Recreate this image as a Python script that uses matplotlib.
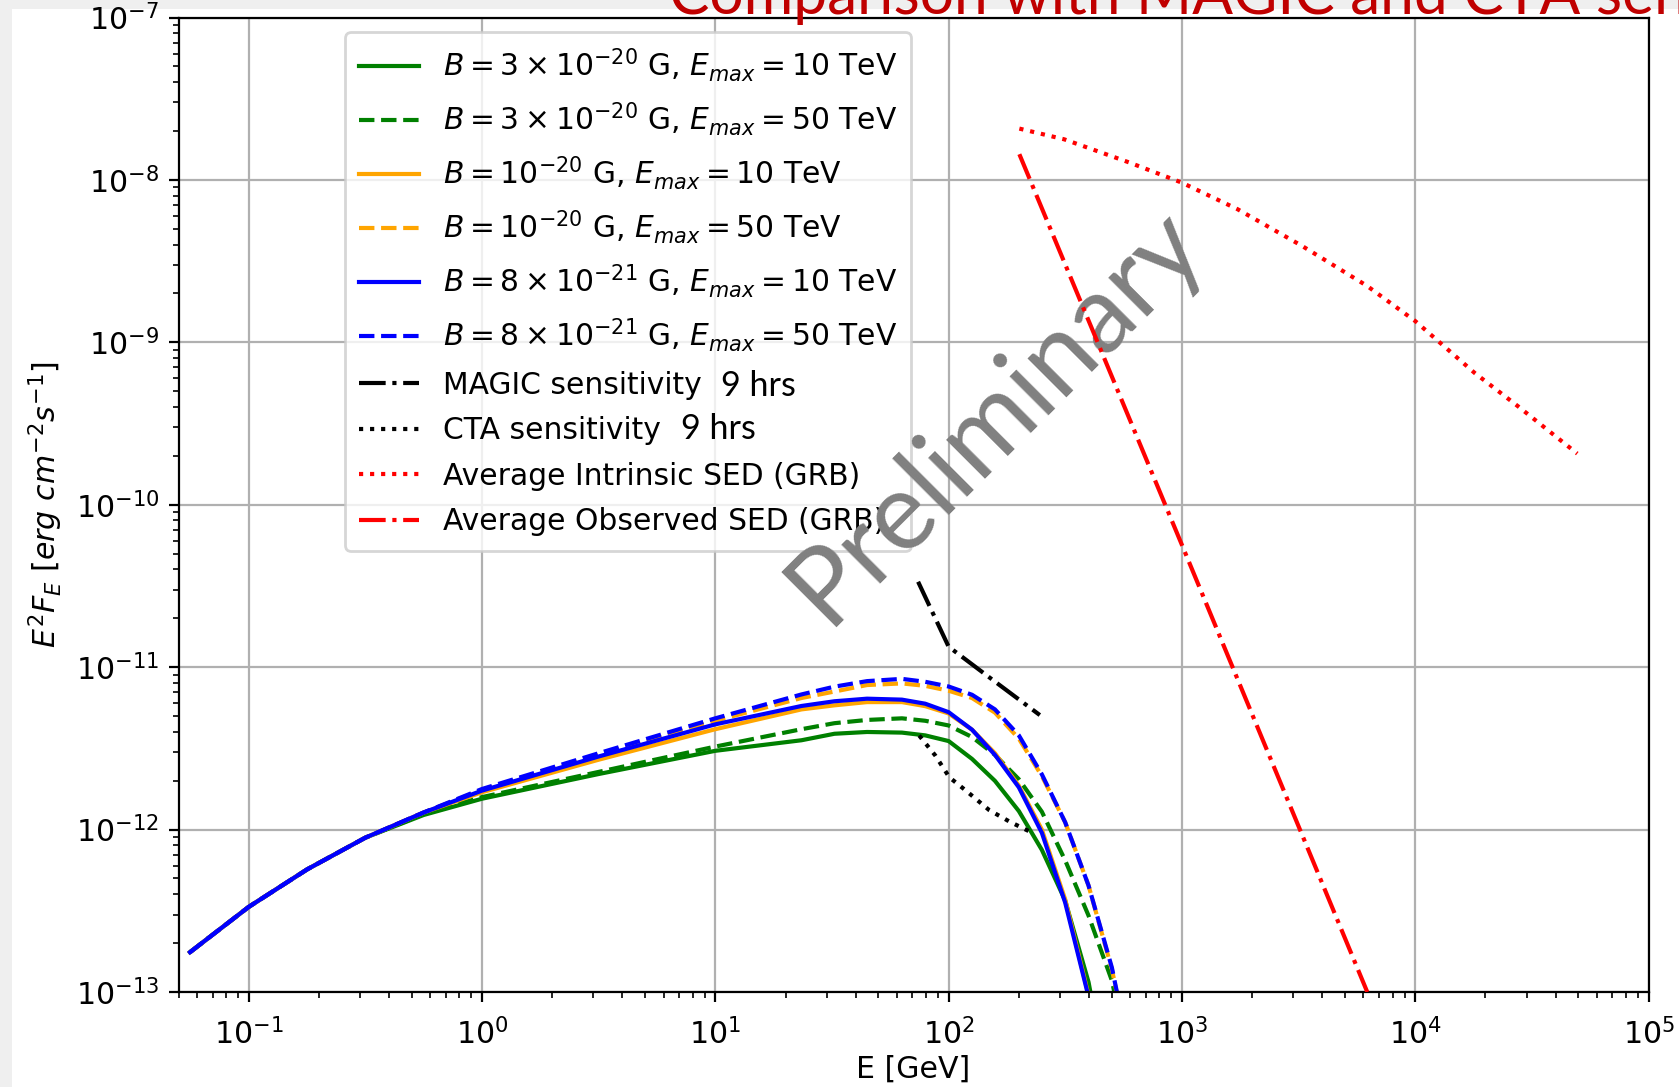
import matplotlib
matplotlib.use("Agg")
import matplotlib.pyplot as plt
from matplotlib.patches import Rectangle

# Photon energy grid shared by the cascade models [GeV]
energy = [0.056, 0.1, 0.178, 0.316, 0.562, 1.0, 3.16, 10.0, 23.4, 32.4, 44.7,
          63.1, 79.4, 100.0, 126.0, 158.0, 200.0, 251.0, 316.0, 398.0, 501.0, 631.0]

# E^2 F_E [erg cm^-2 s^-1] for each IGMF strength / maximum energy
b3e20_10tev = [1.758e-13, 3.342e-13, 5.689e-13, 8.913e-13, 1.230e-12, 1.549e-12, 2.198e-12,
               3.055e-12, 3.548e-12, 3.890e-12, 3.990e-12, 3.954e-12, 3.802e-12, 3.508e-12,
               2.723e-12, 1.995e-12, 1.300e-12, 7.499e-13, 3.656e-13, 1.148e-13, 1.995e-14, 3.162e-15]
b3e20_50tev = [1.758e-13, 3.342e-13, 5.689e-13, 8.913e-13, 1.245e-12, 1.585e-12, 2.265e-12,
               3.243e-12, 4.150e-12, 4.519e-12, 4.732e-12, 4.842e-12, 4.677e-12, 4.375e-12,
               3.715e-12, 2.884e-12, 2.042e-12, 1.288e-12, 6.457e-13, 2.951e-13, 1.175e-13, 2.512e-14]
b1e20_10tev = [1.758e-13, 3.342e-13, 5.689e-13, 8.913e-13, 1.274e-12, 1.698e-12, 2.692e-12,
               4.150e-12, 5.495e-12, 5.821e-12, 6.095e-12, 6.095e-12, 5.754e-12, 5.188e-12,
               4.121e-12, 2.951e-12, 1.862e-12, 1.000e-12, 3.715e-13, 9.550e-14, 1.585e-14, 2.512e-15]
b1e20_50tev = [1.758e-13, 3.342e-13, 5.689e-13, 8.913e-13, 1.274e-12, 1.758e-12, 2.884e-12,
               4.677e-12, 6.457e-12, 7.079e-12, 7.762e-12, 7.943e-12, 7.674e-12, 7.161e-12,
               6.457e-12, 5.248e-12, 3.631e-12, 2.138e-12, 1.109e-12, 4.519e-13, 1.380e-13, 2.818e-14]
b8e21_10tev = [1.758e-13, 3.342e-13, 5.689e-13, 8.913e-13, 1.274e-12, 1.738e-12, 2.818e-12,
               4.446e-12, 5.768e-12, 6.166e-12, 6.397e-12, 6.310e-12, 5.957e-12, 5.284e-12,
               4.121e-12, 2.884e-12, 1.820e-12, 9.550e-13, 3.548e-13, 9.333e-14, 1.585e-14, 2.512e-15]
b8e21_50tev = [1.758e-13, 3.342e-13, 5.689e-13, 8.913e-13, 1.274e-12, 1.778e-12, 2.951e-12,
               4.842e-12, 6.792e-12, 7.586e-12, 8.204e-12, 8.472e-12, 8.128e-12, 7.603e-12,
               6.761e-12, 5.495e-12, 3.802e-12, 2.188e-12, 1.109e-12, 4.519e-13, 1.413e-13, 2.818e-14]

# Instrument sensitivities (9 h)
magic_e = [74.0, 100.0, 155.0, 246.0]
magic_f = [3.357e-11, 1.337e-11, 8.318e-12, 5.070e-12]
cta_e = [74.8, 87.7, 100.7, 118.6, 149.3, 182.0, 225.4]
cta_f = [3.793e-12, 2.858e-12, 2.099e-12, 1.738e-12, 1.318e-12, 1.122e-12, 9.638e-13]

# Average GRB spectra
intr_e = [201.0, 313.0, 596.0, 1000.0, 1730.0, 3270.0, 6210.0, 10000.0, 18000.0, 27600.0, 49500.0]
intr_f = [2.070e-8, 1.778e-8, 1.279e-8, 9.616e-9, 6.607e-9, 3.926e-9, 2.228e-9,
          1.352e-9, 6.471e-10, 4.036e-10, 2.065e-10]
obs_e = [201.0, 1000.0, 6230.0]
obs_f = [1.440e-8, 5.660e-11, 1.000e-13]

labels = [
    r"$B = 3\times10^{-20}$ G, $E_{max} = 10$ TeV",
    r"$B = 3\times10^{-20}$ G, $E_{max} = 50$ TeV",
    r"$B = 10^{-20}$ G, $E_{max} = 10$ TeV",
    r"$B = 10^{-20}$ G, $E_{max} = 50$ TeV",
    r"$B = 8\times10^{-21}$ G, $E_{max} = 10$ TeV",
    r"$B = 8\times10^{-21}$ G, $E_{max} = 50$ TeV",
    "MAGIC sensitivity",
    "CTA sensitivity",
    "Average Intrinsic SED (GRB)",
    "Average Observed SED (GRB)",
]

plt.rcParams["font.size"] = 10.8
plt.rcParams["xtick.major.pad"] = 6.0

W, H = 1679, 1087
fig = plt.figure(figsize=(W / 200, H / 200), dpi=200, facecolor="#efefef")
fig.patches.append(Rectangle((12 / W, 0), 1 - 12 / W, 1 - 9 / H, transform=fig.transFigure,
                             facecolor="white", edgecolor="none", zorder=-10))

ax = fig.add_axes([178.5 / W, 1 - 992 / H, 1470 / W, 974.5 / H])
ax.set_xscale("log")
ax.set_yscale("log")

ax.plot(energy, b3e20_10tev, color="green", ls="-", lw=1.5, label=labels[0])
ax.plot(energy, b3e20_50tev, color="green", ls="--", lw=1.5, label=labels[1])
ax.plot(energy, b1e20_10tev, color="orange", ls="-", lw=1.5, label=labels[2])
ax.plot(energy, b1e20_50tev, color="orange", ls="--", lw=1.5, label=labels[3])
ax.plot(energy, b8e21_10tev, color="blue", ls="-", lw=1.5, label=labels[4])
ax.plot(energy, b8e21_50tev, color="blue", ls="--", lw=1.5, label=labels[5])
ax.plot(magic_e, magic_f, color="black", ls="-.", lw=1.5, label=labels[6])
ax.plot(cta_e, cta_f, color="black", ls=":", lw=1.5, label=labels[7])
ax.plot(intr_e, intr_f, color="red", ls=":", lw=1.5, label=labels[8], zorder=7)
ax.plot(obs_e, obs_f, color="red", ls="-.", lw=1.5, label=labels[9], zorder=7)

ax.set_xlim(0.05, 1e5)
ax.set_ylim(1e-13, 1e-7)
ax.grid(True)
ax.set_xlabel("E [GeV]", labelpad=1.5)
ax.set_ylabel(r"$E^2F_E\ [erg\ cm^{-2}s^{-1}]$")

leg = ax.legend(loc="upper left", bbox_to_anchor=(0.1133, 0.9851), borderaxespad=0,
                fontsize=10.7, labelspacing=0.555, borderpad=0.48)

# exposure annotations next to the sensitivity entries
fig.text(720.6 / W, 1 - 385.5 / H, "9 hrs", family="Lato", fontsize=12.3,
         color="black", ha="left", va="center")
fig.text(681 / W, 1 - 429.4 / H, "9 hrs", family="Lato", fontsize=12.3,
         color="black", ha="left", va="center")

# watermark
ax.text(995 / W, 1 - 416 / H, "Preliminary", transform=fig.transFigure, family="Lato",
        fontsize=39, color="#808080", rotation=45, rotation_mode="anchor",
        ha="center", va="center", zorder=6)

# slide heading
fig.text(669 / W, 1 - 14 / H, "Comparison with MAGIC and CTA sensitivity", family="Lato",
         fontsize=21.8, color="#c00000", ha="left", va="baseline")

fig.savefig("out.png", dpi=200, facecolor=fig.get_facecolor())
